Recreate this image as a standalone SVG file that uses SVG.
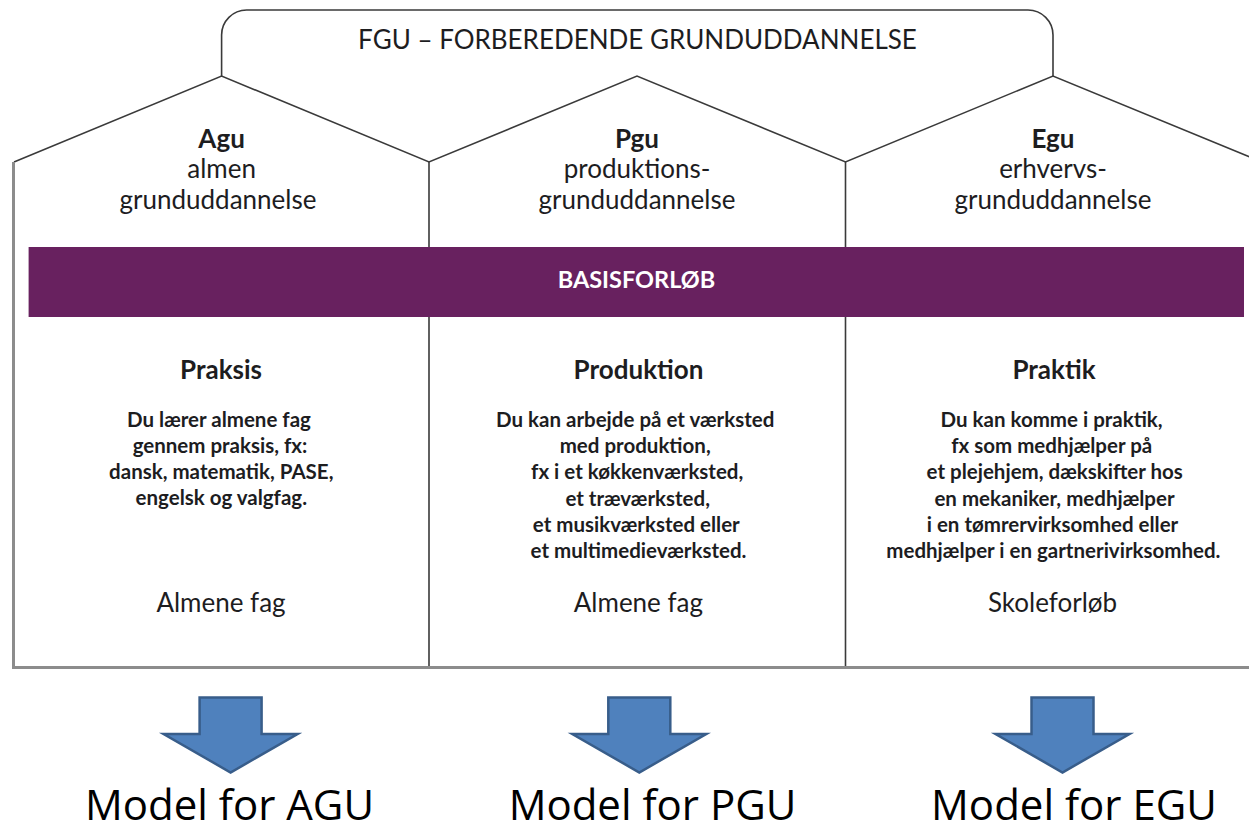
<svg xmlns="http://www.w3.org/2000/svg" xmlns:xlink="http://www.w3.org/1999/xlink" width="1249" height="831" viewBox="0 0 1249 831">
<style>
  .ln{fill:none;stroke:#3a3a3a;stroke-width:1.6;stroke-linejoin:miter}
  .gl{fill:none;stroke:#8c8c8c;stroke-width:3}
  .t{font-family:Lato,"Open Sans","Liberation Sans",sans-serif;fill:#1d1d1f;text-anchor:middle}
  .title{font-size:26px}
  .hd{font-size:26px;font-weight:bold}
  .sub{font-size:26px}
  .colh{font-size:26px;font-weight:bold}
  .body{font-size:20.5px;font-weight:bold}
  .foot{font-size:26px}
  .bar{fill:#68215f}
  .bart{font-family:Lato,"Open Sans","Liberation Sans",sans-serif;font-size:23.5px;font-weight:bold;fill:#ffffff;text-anchor:middle}
  .arr{fill:#4f81bd;stroke:#385d8a;stroke-width:2.5;stroke-linejoin:miter}
  .ml{font-family:"Open Sans","Liberation Sans",sans-serif;font-size:42px;fill:#000;text-anchor:middle}
</style>
<defs>
  <path id="arrowShape" d="M-31,697.5 H31 V734 H67 L0,772.5 L-67,734 H-31 Z"/>
</defs>
<rect width="1249" height="831" fill="#ffffff"/>
<g id="house-outline">
  <path class="ln" d="M221.6,76 V35 A25,25 0 0 1 246.6,10 H1028 A25,25 0 0 1 1053,35 V76"/>
  <path class="ln" d="M14,162 L221.6,76 L429,162 L637,76 L845.5,162 L1053,76 L1262,162"/>
  <path class="ln" d="M429,162 V667 M845.5,162 V667"/>
  <path class="gl" d="M13.5,162 V667.5 H1249"/>
</g>
<g id="fgu-title">
  <text class="t title" x="637.5" y="49">FGU – FORBEREDENDE GRUNDUDDANNELSE</text>
</g>
<g id="basisforlob">
  <rect class="bar" x="28.6" y="247" width="1215.4" height="70"/>
  <text class="bart" x="636.5" y="288">BASISFORLØB</text>
</g>
<g id="agu">
  <text class="t hd" x="221.6" y="148.3">Agu</text>
  <text class="t sub" x="221.6" y="178.3">almen</text>
  <text class="t sub" x="218" y="209.3">grunduddannelse</text>
  <text class="t colh" x="221" y="379">Praksis</text>
  <text class="t body" x="219" y="427.3">Du lærer almene fag</text>
  <text class="t body" x="220" y="453.3">gennem praksis, fx:</text>
  <text class="t body" x="221.3" y="479.3">dansk, matematik, PASE,</text>
  <text class="t body" x="221.3" y="505.3">engelsk og valgfag.</text>
  <text class="t foot" x="221" y="611.7">Almene fag</text>
</g>
<g id="pgu">
  <text class="t hd" x="637" y="148.3">Pgu</text>
  <text class="t sub" x="637" y="178.3">produktions-</text>
  <text class="t sub" x="637" y="209.3">grunduddannelse</text>
  <text class="t colh" x="638.5" y="379">Produktion</text>
  <text class="t body" x="635.2" y="427.3">Du kan arbejde på et værksted</text>
  <text class="t body" x="635.2" y="453.3">med produktion,</text>
  <text class="t body" x="637.2" y="479.3">fx i et køkkenværksted,</text>
  <text class="t body" x="637.7" y="505.5">et træværksted,</text>
  <text class="t body" x="636.3" y="531.5">et musikværksted eller</text>
  <text class="t body" x="638.5" y="557.5">et multimedieværksted.</text>
  <text class="t foot" x="638.4" y="611.7">Almene fag</text>
</g>
<g id="egu">
  <text class="t hd" x="1053" y="148.3">Egu</text>
  <text class="t sub" x="1053" y="178.3">erhvervs-</text>
  <text class="t sub" x="1053" y="209.3">grunduddannelse</text>
  <text class="t colh" x="1054" y="379">Praktik</text>
  <text class="t body" x="1051.6" y="427.3">Du kan komme i praktik,</text>
  <text class="t body" x="1051.7" y="453.3">fx som medhjælper på</text>
  <text class="t body" x="1054.7" y="479.3">et plejehjem, dækskifter hos</text>
  <text class="t body" x="1054.5" y="505.5">en mekaniker, medhjælper</text>
  <text class="t body" x="1052.5" y="531.5">i en tømrervirksomhed eller</text>
  <text class="t body" x="1053.4" y="557.5">medhjælper i en gartnerivirksomhed.</text>
  <text class="t foot" x="1052.5" y="611.7">Skoleforløb</text>
</g>
<g id="connectors">
  <use xlink:href="#arrowShape" href="#arrowShape" class="arr" x="230.6" y="0"/>
  <use xlink:href="#arrowShape" href="#arrowShape" class="arr" x="639.3" y="0"/>
  <use xlink:href="#arrowShape" href="#arrowShape" class="arr" x="1062.5" y="0"/>
</g>
<g id="model-agu"><text class="ml" x="229.5" y="819.5">Model for AGU</text></g>
<g id="model-pgu"><text class="ml" x="652.5" y="819.5">Model for PGU</text></g>
<g id="model-egu"><text class="ml" x="1074" y="819.5">Model for EGU</text></g>
</svg>
